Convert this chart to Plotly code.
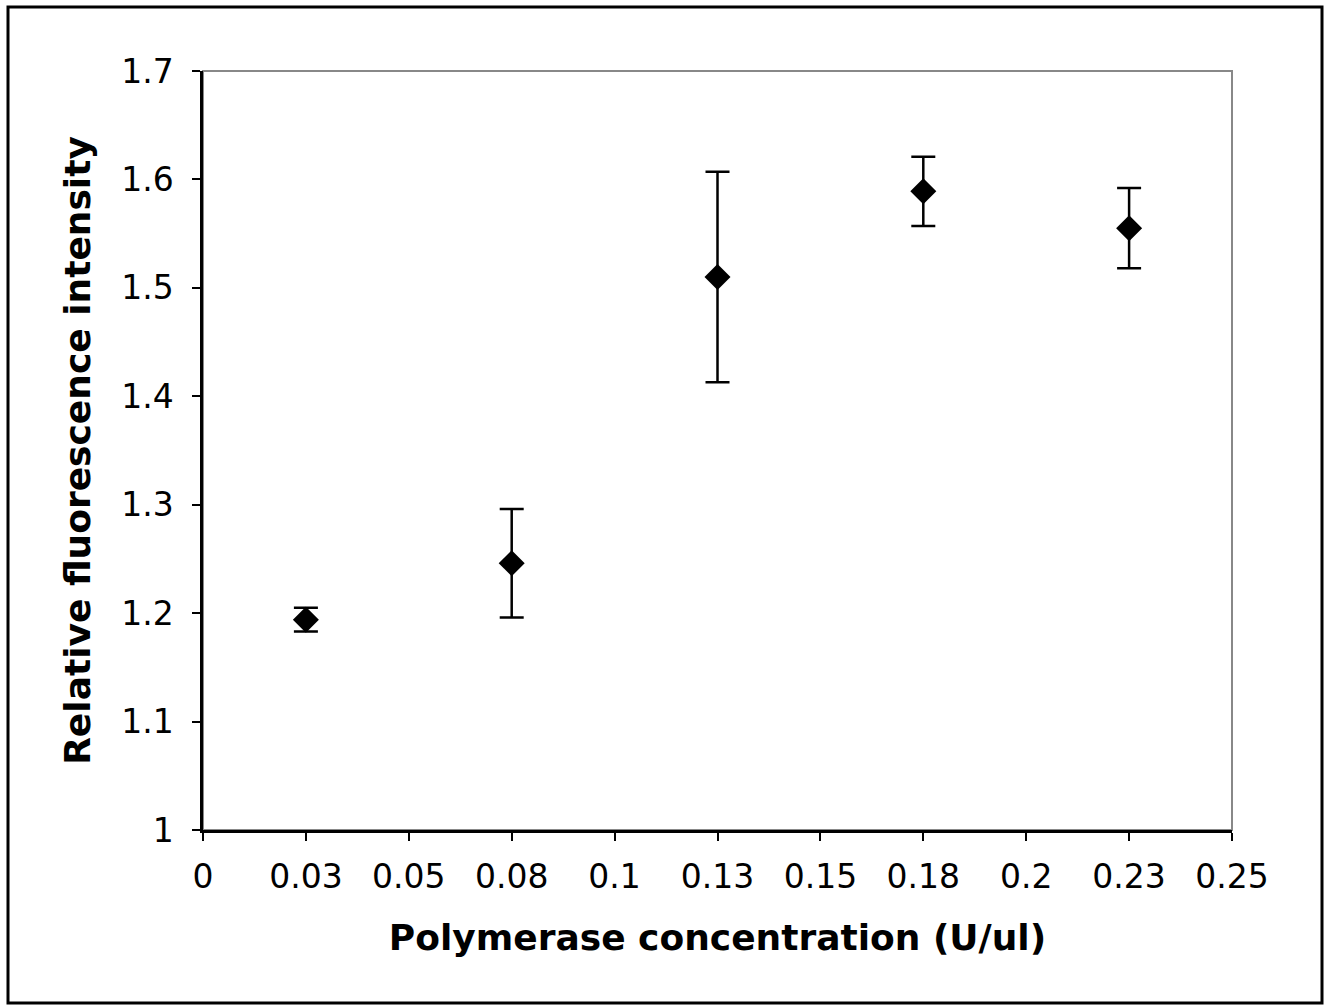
import plotly.graph_objects as go

conc = [0.025, 0.075, 0.125, 0.175, 0.225]
intensity = [1.194, 1.246, 1.510, 1.589, 1.555]
err = [0.011, 0.050, 0.097, 0.032, 0.037]

x_tickvals = [0, 0.025, 0.05, 0.075, 0.1, 0.125, 0.15, 0.175, 0.2, 0.225, 0.25]
x_ticktext = ["0", "0.03", "0.05", "0.08", "0.1", "0.13", "0.15", "0.18", "0.2", "0.23", "0.25"]
y_tickvals = [1, 1.1, 1.2, 1.3, 1.4, 1.5, 1.6, 1.7]
y_ticktext = ["1", "1.1", "1.2", "1.3", "1.4", "1.5", "1.6", "1.7"]

FONT = "DejaVu Sans, Verdana, sans-serif"

fig = go.Figure()
fig.add_trace(go.Scatter(
    x=conc, y=intensity, mode="markers",
    marker=dict(symbol="diamond", size=20, color="black"),
    error_y=dict(type="data", array=err, visible=True, color="black", thickness=2.5, width=12),
    showlegend=False,
))

W, H = 1329, 1006
L, R, T, B = 203, 97, 71, 176
dw, dh = W - L - R, H - T - B

def px2x(p):
    return (p - L) / dw

def px2y(p):
    return (H - B - p) / dh

shapes = [
    dict(type="rect", xref="paper", yref="paper", x0=0, x1=1, y0=0, y1=1,
         line=dict(color="#888888", width=2), layer="below"),
    dict(type="rect", xref="paper", yref="paper",
         x0=px2x(8), x1=px2x(1322), y0=px2y(1003), y1=px2y(7),
         line=dict(color="black", width=3), layer="below"),
]

fig.update_layout(
    width=W, height=H,
    margin=dict(l=L, r=R, t=T, b=B),
    paper_bgcolor="white", plot_bgcolor="white",
    font=dict(family=FONT, size=33, color="black"),
    shapes=shapes,
    xaxis=dict(
        range=[0, 0.25], tickmode="array", tickvals=x_tickvals, ticktext=x_ticktext,
        showgrid=False, zeroline=False, showline=True, linecolor="black", linewidth=2.5,
        ticks="outside", ticklen=8, tickwidth=2, tickcolor="black", ticklabelstandoff=8,
        title=dict(text="<b>Polymerase concentration (U/ul)</b>", font=dict(size=36), standoff=30),
    ),
    yaxis=dict(
        range=[1, 1.7], tickmode="array", tickvals=y_tickvals, ticktext=y_ticktext,
        showgrid=False, zeroline=False, showline=True, linecolor="black", linewidth=2.5,
        ticks="outside", ticklen=8, tickwidth=2, tickcolor="black", ticklabelstandoff=12,
        title=dict(text="<b>Relative fluorescence intensity</b>", font=dict(size=36), standoff=20),
    ),
)

fig.write_html("out.html")
